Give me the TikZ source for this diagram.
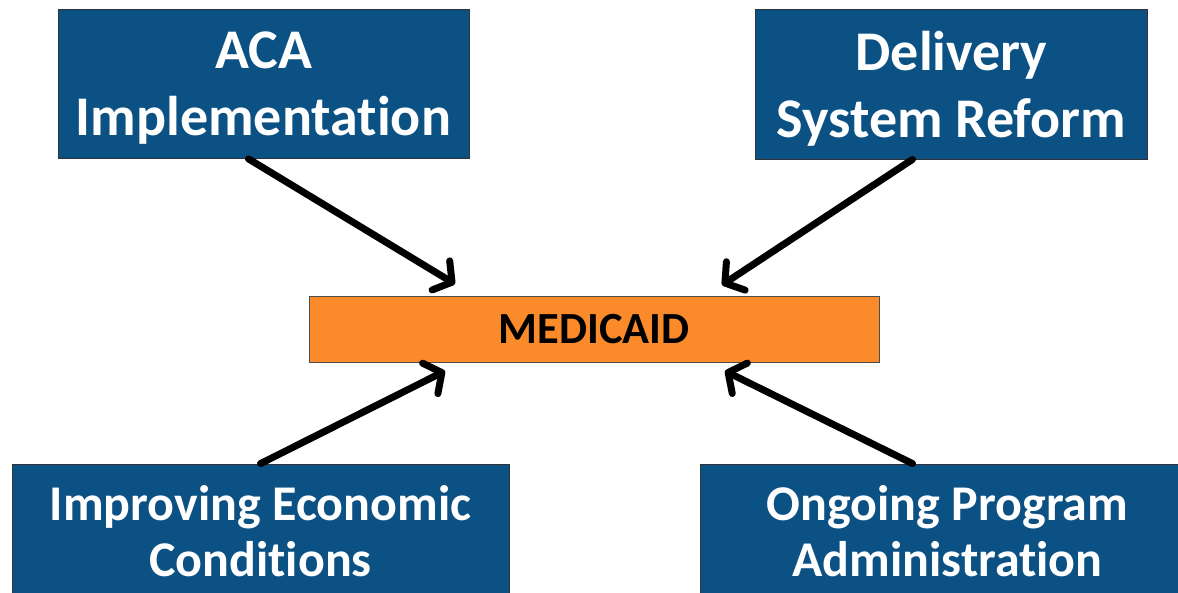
\documentclass[tikz,border=0pt]{standalone}
\usepackage{fontspec}
\setmainfont{Carlito}[Ligatures={NoCommon,NoContextual}]
\usepackage{tikz}
\usetikzlibrary{arrows.meta}
\definecolor{boxblue}{RGB}{12,81,132}
\definecolor{medorange}{RGB}{251,138,42}
\tikzset{
    topic/.style={draw=black!80, line width=0.8pt, fill=boxblue, text=white, align=center,
        text depth=0pt, font=\bfseries\fontsize{56}{67}\selectfont},
    lowtopic/.style={draw=black!80, line width=0.8pt, fill=boxblue, text=white, align=center,
        font=\bfseries\fontsize{50}{56}\selectfont},
    hub/.style={draw=black!70, line width=0.8pt, fill=medorange, text=black,
        font=\bfseries\fontsize{44.5}{50}\selectfont},
    push/.style={line width=7pt, line cap=round, -{Straight Barb[length=13pt, width=34pt, round]}}
}
\begin{document}
\begin{tikzpicture}[x=1pt,y=-1pt]
    \useasboundingbox (0,0) rectangle (1178,593);
    % forces acting on the program
    \node[topic, minimum width=411, minimum height=149] (aca) at (263.5,84) {ACA\\Implementation};
    \node[topic, minimum width=392, minimum height=150] (dsr) at (951.5,84) {Delivery\\System Reform};
    \node[hub, minimum width=570, minimum height=66] (med) at (594,329) {MEDICAID};
    \node[lowtopic, minimum width=497, minimum height=134] (econ) at (260.5,531) {Improving Economic\\Conditions};
    \node[lowtopic, minimum width=495, minimum height=134] (admin) at (947.5,531) {Ongoing Program\\Administration};
    % arrow tips
    \coordinate (tipA) at (455,284);
    \coordinate (tipB) at (722,285);
    \coordinate (tipC) at (445,371);
    \coordinate (tipD) at (725,371);
    \draw[push] ([xshift=-15]aca.south) -- (tipA);
    \draw[push] ([xshift=-39]dsr.south) -- (tipB);
    \draw[push] (econ.north) -- (tipC);
    \draw[push] ([xshift=-35]admin.north) -- (tipD);
\end{tikzpicture}
\end{document}
